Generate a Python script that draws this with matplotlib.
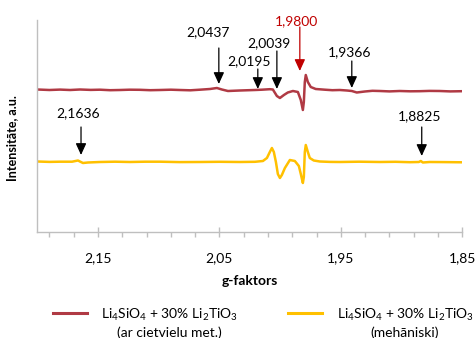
import matplotlib
matplotlib.use("Agg")
import matplotlib.pyplot as plt
from matplotlib.lines import Line2D
from matplotlib.ticker import FixedLocator

plt.rcParams['font.family'] = ['Lato', 'DejaVu Sans']
plt.rcParams['mathtext.fontset'] = 'custom'
plt.rcParams['mathtext.rm'] = 'Lato'
plt.rcParams['mathtext.it'] = 'Lato:italic'
plt.rcParams['mathtext.bf'] = 'Lato:bold'

# ---- data (g-factor vs. intensity, a.u.) ----
g_red = [2.2000, 2.1900, 2.1813, 2.1730, 2.1649, 2.1560, 2.1484, 2.1400, 2.1319, 2.1240,
         2.1155, 2.1070, 2.0990, 2.0900, 2.0826, 2.0740, 2.0661, 2.0578, 2.0521, 2.0480,
         2.0430, 2.0332, 2.0208, 2.0151, 2.0085, 2.0060, 2.0027, 2.0002, 1.9969, 1.9937,
         1.9895, 1.9854, 1.9830, 1.9813, 1.9805, 1.9797, 1.9789, 1.9772, 1.9748, 1.9707,
         1.9632, 1.9570, 1.9509, 1.9450, 1.9410, 1.9369, 1.9303, 1.9240, 1.9179, 1.9100,
         1.9015, 1.8930, 1.8850, 1.8770, 1.8686, 1.8600, 1.8500]
i_red = [142.5, 142.0, 142.4, 142.0, 142.5, 142.1, 142.3, 141.8, 142.0, 142.3,
         142.2, 141.8, 142.0, 142.3, 142.0, 141.7, 142.3, 143.0, 144.0, 142.5,
         141.0, 141.5, 142.0, 142.3, 142.8, 142.5, 136.0, 134.0, 137.0, 139.5,
         141.0, 140.0, 132.0, 122.0, 130.0, 150.0, 157.0, 150.0, 145.0, 143.0,
         142.3, 141.8, 142.0, 141.5, 141.0, 139.5, 140.5, 141.2, 141.0, 140.6,
         141.0, 140.7, 140.8, 141.1, 141.0, 140.6, 140.8]

g_yel = [2.2000, 2.1900, 2.1813, 2.1714, 2.1665, 2.1649, 2.1624, 2.1583, 2.1484, 2.1360,
         2.1237, 2.1110, 2.0990, 2.0830, 2.0661, 2.0500, 2.0332, 2.0208, 2.0142, 2.0109,
         2.0085, 2.0068, 2.0052, 2.0035, 2.0019, 2.0002, 1.9986, 1.9961, 1.9920, 1.9879,
         1.9846, 1.9830, 1.9813, 1.9805, 1.9797, 1.9789, 1.9772, 1.9756, 1.9723, 1.9673,
         1.9590, 1.9509, 1.9350, 1.9179, 1.9050, 1.8932, 1.8858, 1.8842, 1.8825, 1.8768,
         1.8650, 1.8500]
i_yel = [70.5, 70.1, 70.3, 70.3, 71.5, 70.5, 69.0, 69.5, 70.0, 70.3,
         70.0, 70.3, 70.3, 69.9, 70.0, 70.2, 70.0, 70.2, 71.0, 74.0,
         80.0, 84.0, 80.0, 70.0, 58.0, 54.0, 57.0, 64.0, 72.0, 71.0,
         66.0, 58.0, 49.0, 55.0, 80.0, 87.0, 80.0, 74.0, 71.5, 70.5,
         70.1, 70.0, 70.3, 70.0, 70.2, 69.8, 70.0, 71.0, 69.5, 70.0,
         69.9, 69.7]

series_labels = [r'Li$_4$SiO$_4$ + 30% Li$_2$TiO$_3$' + '\n(ar cietvielu met.)',
                 r'Li$_4$SiO$_4$ + 30% Li$_2$TiO$_3$' + '\n(mehāniski)']

# annotations: label, arrow g, arrow tail I, arrow tip I, text g, text I, colour
ann_labels = ['2,0437', '2,0195', '2,0039', '1,9800', '1,9366', '2,1636', '1,8825']
ann_arrow_g = [2.0505, 2.0184, 2.0027, 1.9838, 1.9410, 2.1640, 1.8834]
ann_tail_i = [184, 163, 181, 205, 171, 105, 105]
ann_tip_i = [148, 143, 143, 161, 144, 77, 76]
ann_text_g = [2.0595, 2.0258, 2.0093, 1.9863, 1.9426, 2.1665, 1.8850]
ann_text_i = [200, 171, 189, 211, 180, 119, 116]
ann_colors = ['black', 'black', 'black', '#C00000', 'black', 'black', 'black']

major_ticks = [2.15, 2.05, 1.95, 1.85]
major_labels = ['2,15', '2,05', '1,95', '1,85']
minor_ticks = [2.19, 2.17, 2.13, 2.11, 2.09, 2.07, 2.03, 2.01, 1.99, 1.97,
               1.93, 1.91, 1.89, 1.87]

red = '#B03A44'
yellow = '#FFC000'
grey = '#BFBFBF'

fig = plt.figure(figsize=(4.76, 3.38), dpi=100)
ax = fig.add_axes([37.3 / 476, 1 - 232 / 338, (462.3 - 37.3) / 476, 212 / 338])

ax.plot(g_red, i_red, color=red, lw=1.8, solid_joinstyle='round')
ax.plot(g_yel, i_yel, color=yellow, lw=1.8, solid_joinstyle='round')

ax.set_xlim(2.2, 1.85)
ax.set_ylim(0, 212)

for s in ['top', 'right']:
    ax.spines[s].set_visible(False)
for s in ['left', 'bottom']:
    ax.spines[s].set_color(grey)
    ax.spines[s].set_linewidth(1.0)

ax.set_yticks([])
ax.xaxis.set_major_locator(FixedLocator(major_ticks))
ax.set_xticklabels(major_labels, fontsize=10)
ax.xaxis.set_minor_locator(FixedLocator(minor_ticks))
ax.tick_params(axis='x', which='major', direction='inout', length=7, width=1,
               color=grey, pad=11)
ax.tick_params(axis='x', which='minor', direction='out', length=3.5, width=1,
               color=grey)

ax.set_xlabel('g-faktors', fontsize=10, fontweight='bold', labelpad=8)
ax.set_ylabel('Intensitāte, a.u.', fontsize=9, fontweight='bold')
ax.yaxis.set_label_coords(-0.045, 0.443)

for lab, ag, t0, t1, tg, ti, c in zip(ann_labels, ann_arrow_g, ann_tail_i, ann_tip_i,
                                      ann_text_g, ann_text_i, ann_colors):
    ax.annotate('', xy=(ag, t1), xytext=(ag, t0),
                arrowprops=dict(arrowstyle='-|>,head_length=0.7,head_width=0.32',
                                color=c, lw=0.9, shrinkA=0, shrinkB=0),
                annotation_clip=False)
    ax.text(tg, ti, lab, ha='center', va='center', fontsize=10, color=c)

# legend (manual, line aligned with first text line)
leg_line_x = [(53 / 476, 87 / 476), (288 / 476, 322 / 476)]
leg_text_x = [169 / 476, 405 / 476]
for (x0, x1), tx, col, lab in zip(leg_line_x, leg_text_x, [red, yellow], series_labels):
    fig.add_artist(Line2D([x0, x1], [1 - 313 / 338, 1 - 313 / 338], color=col, lw=2.2))
    fig.text(tx, 1 - 323 / 338, lab, ha='center', va='center', fontsize=10,
             multialignment='center', linespacing=1.3)

fig.savefig('out.png', dpi=100)
